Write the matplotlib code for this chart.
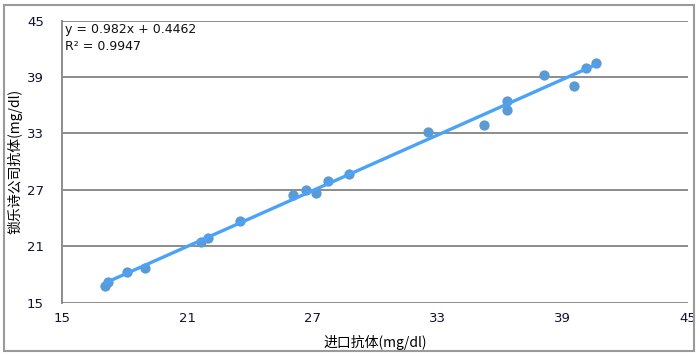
#!/usr/bin/env python3
"""Scatter of company vs imported antibody values with linear trendline."""

import numpy as np
import matplotlib

matplotlib.use("Agg")
import matplotlib.pyplot as plt
from matplotlib.patches import Rectangle

# imported antibody (x) vs company antibody (y), mg/dl
x_vals = [17.07, 17.2, 18.1, 19.0, 21.68, 22.0, 23.56, 26.06, 26.68, 27.16,
          27.74, 28.75, 32.55, 35.24, 36.33, 36.36, 38.1, 39.57, 40.14, 40.6]
y_vals = [16.8, 17.25, 18.25, 18.7, 21.45, 21.9, 23.7, 26.4, 26.95, 26.65,
          27.95, 28.65, 33.1, 33.9, 35.5, 36.45, 39.25, 38.05, 39.9, 40.5]
ticks = [15, 21, 27, 33, 39, 45]
equation_text = "y = 0.982x + 0.4462\nR² = 0.9947"
x_title = "进口抗体(mg/dl)"
y_title = "锁乐诗公司抗体(mg/dl)"

FONTS = ["DejaVu Sans", "Noto Sans CJK SC"]
CJK_FONTS = ["Noto Sans CJK SC", "DejaVu Sans"]
GRID = "#8c8c8c"

plt.rcParams["font.family"] = FONTS

fig = plt.figure(figsize=(7.0, 3.56), dpi=100)
ax = fig.add_axes([62 / 700, 1 - 302.7 / 356, (687.5 - 62) / 700, (302.7 - 20.5) / 356])

# outer chart border
fig.patches.append(Rectangle((4 / 700, 1 - 351 / 356), 690 / 700, 346 / 356,
                             transform=fig.transFigure, fill=False,
                             edgecolor="#9a9a9a", linewidth=1.5))

xs = np.array(x_vals)
ys = np.array(y_vals)
slope, intercept = np.polyfit(xs, ys, 1)
line_x = np.array([xs.min(), xs.max()])
ax.plot(line_x, slope * line_x + intercept, color="#4aa3f7", linewidth=2.4,
        solid_capstyle="round", zorder=3)
ax.scatter(xs, ys, s=55, color="#5b9bd5", zorder=2, linewidths=0)

ax.set_xlim(15, 45)
ax.set_ylim(15, 45)
ax.set_xticks(ticks)
ax.set_yticks(ticks)
ax.tick_params(length=0, labelsize=9.5, labelcolor="#111133")
ax.tick_params(axis="x", pad=7)
ax.tick_params(axis="y", pad=13)
ax.grid(True, axis="y", color=GRID, linewidth=1.4)
ax.set_axisbelow(True)
for side in ["top", "right", "bottom"]:
    ax.spines[side].set_visible(False)
ax.spines["left"].set_color(GRID)
ax.spines["left"].set_linewidth(1.4)

ax.text(0.004, 0.99, equation_text, transform=ax.transAxes, ha="left", va="top",
        fontsize=9, color="#111111", linespacing=1.35)

ax.set_xlabel(x_title, family=CJK_FONTS, fontsize=10, labelpad=7)
ax.set_ylabel(y_title, family=CJK_FONTS, fontsize=10, labelpad=3)

fig.savefig("out.png", dpi=100)
